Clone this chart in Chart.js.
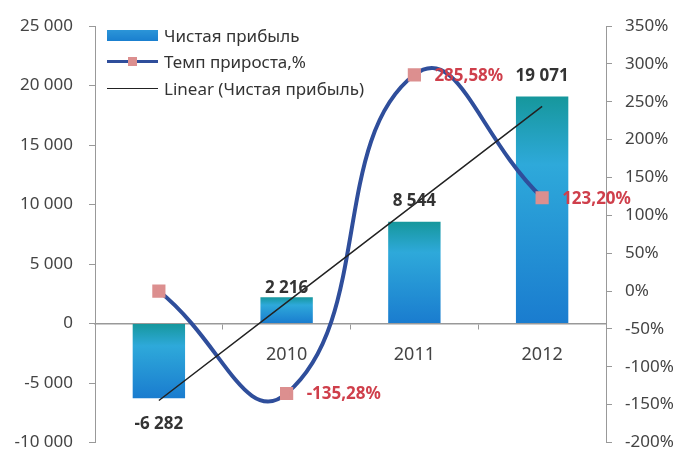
<!DOCTYPE html>
<html>
<head>
<meta charset="utf-8">
<script src="https://cdn.jsdelivr.net/npm/chart.js@4.4.0/dist/chart.umd.min.js"></script>
<style>
    body { margin: 0; background: #fff; }
    #wrap { position: relative; width: 678px; height: 453px; }
    #legend { position: absolute; left: 107px; top: 22px; font-family: 'Noto Sans', sans-serif; font-size: 17px; color: #333; }
    .row { height: 26.5px; display: flex; align-items: center; }
    .key { width: 51px; height: 11px; margin-right: 6px; position: relative; }
    .key.bar { background: linear-gradient(#2b95d8, #1a7fcf); }
    .key.line::before { content: ''; position: absolute; left: 0; right: 0; top: 4px; height: 3px; background: #2f4e9b; }
    .key.line::after { content: ''; position: absolute; left: 21px; top: 1px; width: 9px; height: 9px; background: #dc8f8f; }
    .key.trend::before { content: ''; position: absolute; left: 0; right: 0; top: 5px; height: 1.5px; background: #222; }
</style>
</head>
<body>
<div id="wrap">
    <canvas id="chart" width="678" height="453"></canvas>
    <div id="legend">
        <div class="row"><span class="key bar"></span>Чистая прибыль</div>
        <div class="row"><span class="key line"></span>Темп прироста,%</div>
        <div class="row"><span class="key trend"></span>Linear (Чистая прибыль)</div>
    </div>
</div>
<script>
// Chart data
const years = ['2009', '2010', '2011', '2012'];
const profit = [-6282, 2216, 8544, 19071];
const growth = [0, -135.28, 285.58, 123.20];
const growthLabels = [null, '-135,28%', '285,58%', '123,20%'];

const leftMin = -10000, leftMax = 25000, leftStep = 5000;
const rightMin = -200, rightMax = 350, rightStep = 50;

// Linear trend (least squares over the profit series)
const n = profit.length;
const meanX = (n + 1) / 2;
const meanY = profit.reduce((a, b) => a + b, 0) / n;
let sxy = 0, sxx = 0;
profit.forEach((v, i) => { sxy += (i + 1 - meanX) * (v - meanY); sxx += (i + 1 - meanX) ** 2; });
const slope = sxy / sxx;
const trend = profit.map((v, i) => meanY + slope * (i + 1 - meanX));

// "19 071" style formatting
function fmt(v) {
    const s = Math.abs(v).toString().replace(/\B(?=(\d{3})+(?!\d))/g, ' ');
    return (v < 0 ? '-' : '') + s;
}

const axisFont = { family: 'Noto Sans', size: 17 };
const catFont = { family: 'Noto Sans', size: 18 };
const labelGapAbove = [0, 4, 16, 16];

function barGradient(context) {
    const chart = context.chart;
    const y = chart.scales.y;
    if (!y || !chart.chartArea || context.dataIndex === undefined) return '#1f8ad0';
    const v = profit[context.dataIndex];
    const top = y.getPixelForValue(Math.max(v, 0));
    const bottom = y.getPixelForValue(Math.min(v, 0));
    if (!isFinite(top) || !isFinite(bottom) || top === bottom) return '#1f8ad0';
    const g = chart.ctx.createLinearGradient(0, top, 0, bottom);
    g.addColorStop(0, '#16979c');
    g.addColorStop(0.3, '#2ea9da');
    g.addColorStop(1, '#1a7ccf');
    return g;
}

// keep the axes from pushing the plot area around
function noPad(s) {
    s.paddingTop = 0;
    s.paddingBottom = 0;
    s.paddingLeft = 0;
    s.paddingRight = 0;
}

// Value labels next to bars and points
const valueLabels = {
    id: 'valueLabels',
    afterDatasetsDraw(chart) {
        const c = chart.ctx;
        c.save();
        c.font = 'bold 17px "Noto Sans"';
        c.textAlign = 'center';
        c.textBaseline = 'alphabetic';
        c.fillStyle = '#333';
        chart.getDatasetMeta(2).data.forEach((bar, i) => {
            if (profit[i] >= 0) {
                c.fillText(fmt(profit[i]), bar.x, bar.y - labelGapAbove[i]);
            } else {
                c.fillText(fmt(profit[i]), bar.x, bar.y + 31);
            }
        });
        c.textAlign = 'left';
        c.textBaseline = 'middle';
        c.fillStyle = '#cf3f4b';
        chart.getDatasetMeta(1).data.forEach((pt, i) => {
            if (growthLabels[i]) c.fillText(growthLabels[i], pt.x + 20, pt.y + 1);
        });
        c.restore();
    }
};

const ctx = document.getElementById('chart').getContext('2d');
const chart = new Chart(ctx, {
    data: {
        labels: years,
        datasets: [
            {
                type: 'line',
                label: 'Linear (Чистая прибыль)',
                data: trend,
                yAxisID: 'y',
                borderColor: '#222',
                borderWidth: 1.5,
                pointRadius: 0,
                order: 1
            },
            {
                type: 'line',
                label: 'Темп прироста,%',
                data: growth,
                yAxisID: 'y2',
                borderColor: '#2f4e9b',
                borderWidth: 4,
                tension: 0.5,
                pointStyle: 'rect',
                pointRadius: 6.5,
                pointBackgroundColor: '#dc8f8f',
                pointBorderColor: '#dc8f8f',
                order: 2
            },
            {
                type: 'bar',
                label: 'Чистая прибыль',
                data: profit,
                yAxisID: 'y',
                backgroundColor: barGradient,
                barPercentage: 0.41,
                categoryPercentage: 1,
                order: 3
            }
        ]
    },
    options: {
        responsive: false,
        animation: false,
        layout: { padding: { top: 26, bottom: -4, left: 0, right: 0 } },
        plugins: { legend: { display: false }, tooltip: { enabled: false } },
        scales: {
            x: {
                position: { y: 0 },
                grid: { drawOnChartArea: false, tickLength: 5, color: '#999', offset: true },
                border: { color: '#999', width: 1.5 },
                ticks: { font: catFont, color: '#444', padding: 16 },
                afterFit(s) { noPad(s); }
            },
            y: {
                position: 'left',
                min: leftMin,
                max: leftMax,
                ticks: { stepSize: leftStep, callback: v => fmt(v), font: axisFont, color: '#444', padding: 16 },
                grid: { drawOnChartArea: false, tickLength: 6, color: '#999' },
                border: { color: '#999' },
                afterFit(s) { s.width = 95; noPad(s); }
            },
            y2: {
                position: 'right',
                min: rightMin,
                max: rightMax,
                ticks: { stepSize: rightStep, callback: v => v + '%', font: axisFont, color: '#444', padding: 13 },
                grid: { drawOnChartArea: false, tickLength: 6, color: '#999' },
                border: { color: '#999' },
                afterFit(s) { s.width = 72; noPad(s); }
            }
        }
    },
    plugins: [valueLabels]
});
</script>
</body>
</html>
